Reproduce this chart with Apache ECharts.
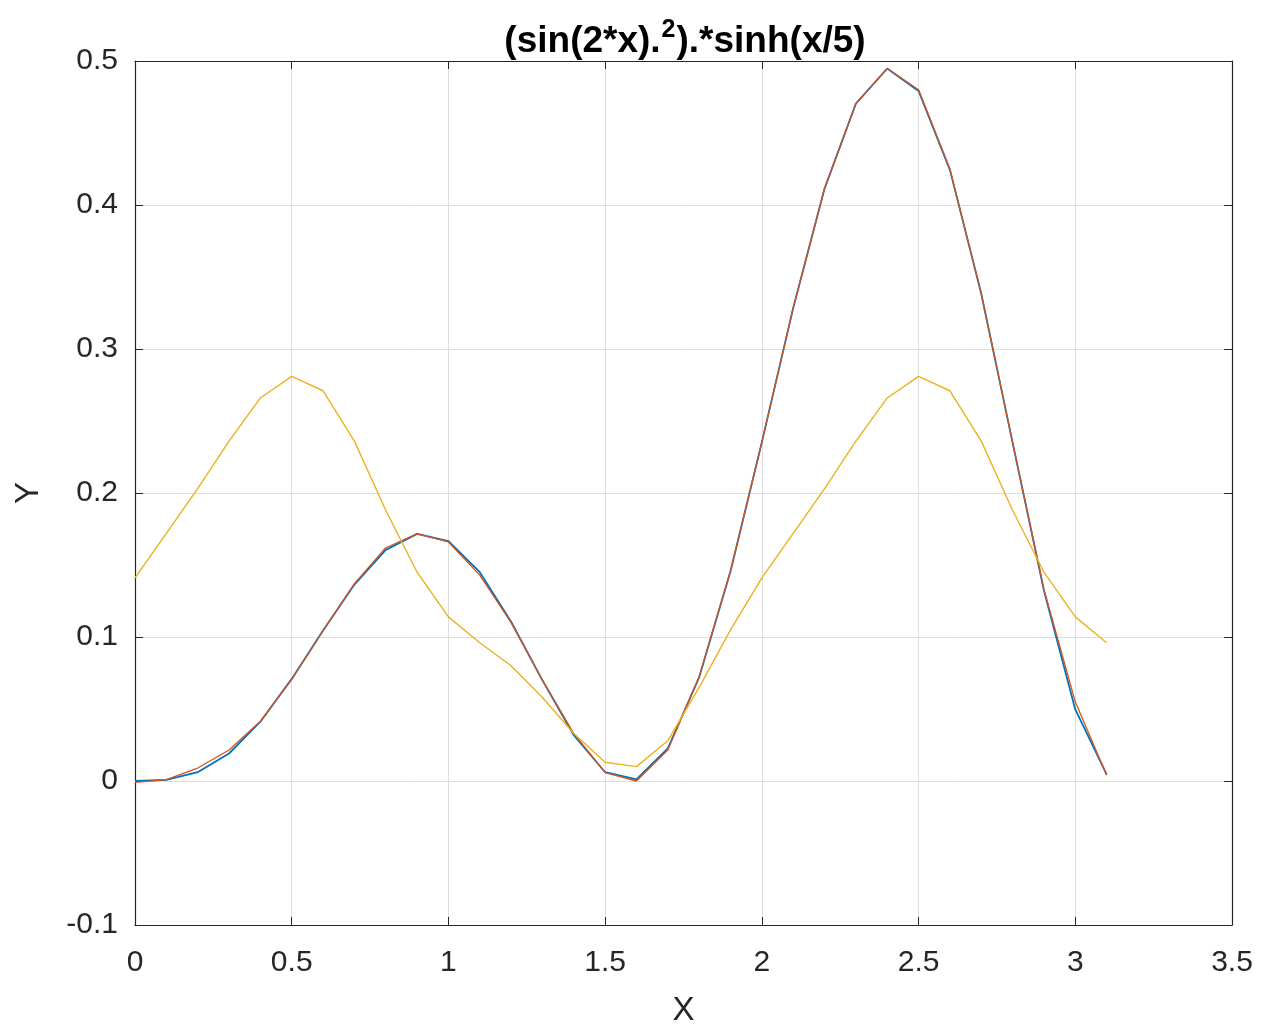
<!DOCTYPE html>
<html>
<head>
<meta charset="utf-8">
<script src="https://cdn.jsdelivr.net/npm/echarts@6/dist/echarts.min.js"></script>
<style>html,body{margin:0;padding:0;background:#fff}#c{width:1265px;height:1025px}</style>
</head>
<body>
<div id="c"></div>
<script>
const xValues = [0,0.1,0.2,0.3,0.4,0.5,0.6,0.7,0.8,0.9,1.0,1.1,1.2,1.3,1.4,1.5,1.6,1.7,1.8,1.9,2.0,2.1,2.2,2.3,2.4,2.5,2.6,2.7,2.8,2.9,3.0,3.1];
const blueY = [0,0.0008,0.0061,0.0191,0.0412,0.0709,0.1045,0.1364,0.1605,0.1716,0.1665,0.1450,0.1106,0.0699,0.0318,0.0061,0.0011,0.0226,0.0720,0.1457,0.2353,0.3285,0.4114,0.4704,0.4948,0.4792,0.4244,0.3384,0.2350,0.1323,0.0497,0.0046];
const redY = [-0.001,0.0010,0.0090,0.0215,0.0415,0.0705,0.1045,0.1370,0.1620,0.1716,0.1660,0.1430,0.1100,0.0700,0.0330,0.0058,0.0000,0.0215,0.0725,0.1460,0.2353,0.3285,0.4114,0.4704,0.4948,0.4800,0.4250,0.3384,0.2350,0.1330,0.0550,0.0040];
const yellowY = [0.141,0.172,0.203,0.236,0.266,0.281,0.271,0.236,0.188,0.145,0.114,0.096,0.080,0.058,0.033,0.013,0.010,0.028,0.065,0.105,0.141,0.172,0.203,0.236,0.266,0.281,0.271,0.236,0.188,0.145,0.114,0.096];
const xTicks = [0,0.5,1,1.5,2,2.5,3,3.5];
const yTicks = [-0.1,0,0.1,0.2,0.3,0.4,0.5];

const chart = echarts.init(document.getElementById('c'), null, {renderer:'canvas'});
const font = '"Liberation Sans", Arial, Helvetica, sans-serif';
const axisColor = '#262626';
function pairs(ys){ return xValues.map((x,i)=>[x, ys[i]]); }
const baseAxis = {
  axisLine:{show:true, onZero:false, lineStyle:{color:axisColor,width:1.2}},
  axisTick:{show:true, inside:true, length:8, lineStyle:{color:axisColor}},
  splitLine:{show:false}
};
chart.setOption({
  animation:false,
  backgroundColor:'#fff',
  title:{
    text:'{m|(sin(2*x).}{sup|2}{m|).*sinh(x/5)}',
    left:680, textAlign:'center', top:13,
    textStyle:{
      rich:{
        m:{fontFamily:font, fontWeight:'bold', fontSize:37, color:'#000', lineHeight:42, verticalAlign:'bottom'},
        sup:{fontFamily:font, fontWeight:'bold', fontSize:25, color:'#000', lineHeight:42, verticalAlign:'top', padding:[0,1,0,1]}
      }}
  },
  grid:{left:135, right:33, top:61, bottom:100, show:false, outerBoundsMode:'none', containLabel:false},
  xAxis:[
    Object.assign({}, baseAxis, {
      type:'value', min:0, max:3.5, interval:0.5, position:'bottom',
      name:'X', nameLocation:'middle', nameGap:69,
      nameTextStyle:{fontFamily:font, fontSize:33, color:axisColor},
      axisLabel:{fontFamily:font, fontSize:30, color:axisColor, margin:23,
        formatter:v=>String(Math.round(v*10)/10)},
      splitLine:{show:true, lineStyle:{color:'#dedede', width:1}}
    }),
    Object.assign({}, baseAxis, {
      type:'value', min:0, max:3.5, interval:0.5, position:'top',
      axisLabel:{show:false}
    })
  ],
  yAxis:[
    Object.assign({}, baseAxis, {
      type:'value', min:-0.1, max:0.5, interval:0.1, position:'left',
      name:'Y', nameLocation:'middle', nameGap:90,
      nameTextStyle:{fontFamily:font, fontSize:33, color:axisColor},
      axisLabel:{fontFamily:font, fontSize:30, color:axisColor, margin:17,
        formatter:v=>String(Math.round(v*10)/10)},
      splitLine:{show:true, lineStyle:{color:'#dedede', width:1}}
    }),
    Object.assign({}, baseAxis, {
      type:'value', min:-0.1, max:0.5, interval:0.1, position:'right',
      axisLabel:{show:false}
    })
  ],
  series:[
    {type:'line', name:'blue', data:pairs(blueY), showSymbol:false, symbol:'none',
      lineStyle:{color:'#0072BD', width:1.8}, z:3},
    {type:'line', name:'red', data:pairs(redY), showSymbol:false, symbol:'none',
      lineStyle:{color:'#D95319', width:1.3}, z:4},
    {type:'line', name:'yellow', data:pairs(yellowY), showSymbol:false, symbol:'none',
      lineStyle:{color:'#EDB120', width:1.4}, z:5}
  ]
});
</script>
</body>
</html>
